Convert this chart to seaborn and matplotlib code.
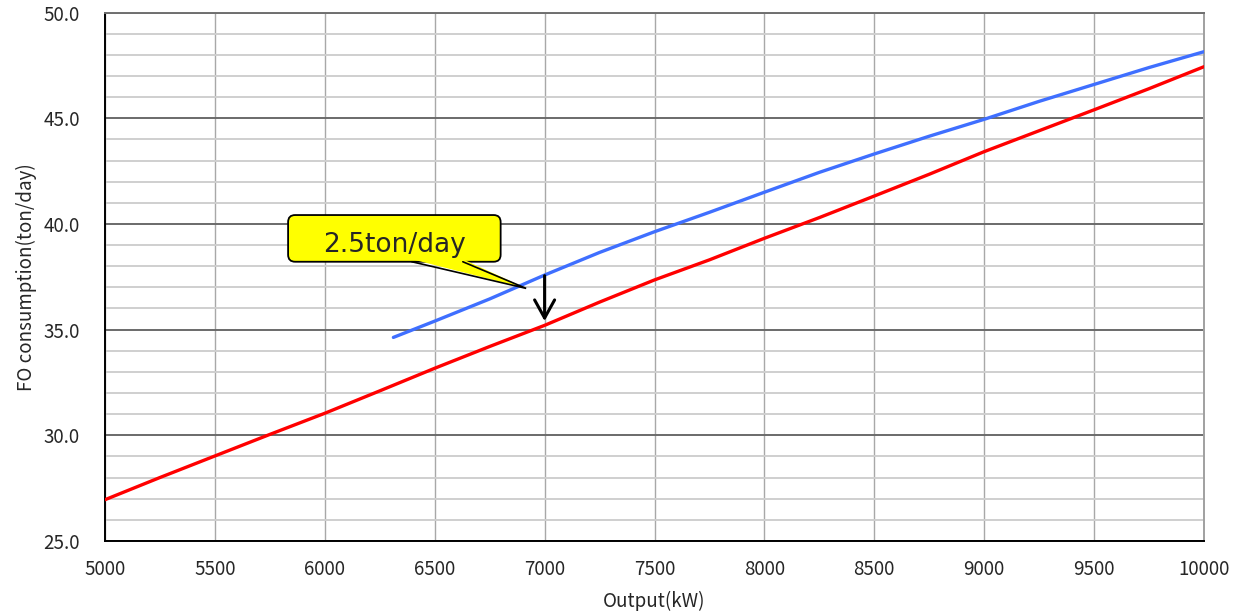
import matplotlib
matplotlib.use("Agg")
import matplotlib.pyplot as plt
from matplotlib.ticker import MultipleLocator, FormatStrFormatter
from matplotlib.patches import FancyBboxPatch, Polygon
import numpy as np
import pandas as pd
import seaborn as sns

# Output power (kW) and fuel-oil consumption (ton/day)
output_red = [5000, 5250, 5500, 5750, 6000, 6250, 6500, 6750, 7000, 7250,
              7500, 7750, 8000, 8250, 8500, 8750, 9000, 9250, 9500, 9750, 10000]
fo_red = [26.95, 28.0, 29.02, 30.04, 31.04, 32.1, 33.17, 34.2, 35.2, 36.3,
          37.35, 38.3, 39.32, 40.3, 41.32, 42.35, 43.42, 44.41, 45.4, 46.4, 47.44]

output_blue = [6312, 6500, 6750, 7000, 7250, 7500, 7750, 8000, 8250, 8500,
               8750, 9000, 9250, 9500, 9750, 10000]
fo_blue = [34.63, 35.4, 36.45, 37.58, 38.65, 39.63, 40.55, 41.5, 42.44, 43.31,
           44.15, 44.95, 45.8, 46.6, 47.4, 48.15]

note_text = "2.5ton/day"
note_x = 7000
note_top, note_bottom = 37.55, 35.4

sns.set_style("white")
plt.rcParams["font.family"] = ["Noto Sans CJK JP", "DejaVu Sans"]

df_red = pd.DataFrame({"Output(kW)": output_red, "FO": fo_red})
df_blue = pd.DataFrame({"Output(kW)": output_blue, "FO": fo_blue})

fig = plt.figure(figsize=(12.5, 6.11), dpi=100)
ax = fig.add_axes([0.084, 0.1147, 0.8792, 0.8647])

sns.lineplot(data=df_red, x="Output(kW)", y="FO", color="#FF0000", lw=2.4, ax=ax, zorder=5)
sns.lineplot(data=df_blue, x="Output(kW)", y="FO", color="#3F6FFF", lw=2.4, ax=ax, zorder=5)

ax.set_xlim(5000, 10000)
ax.set_ylim(25, 50)
ax.xaxis.set_major_locator(MultipleLocator(500))
ax.yaxis.set_major_locator(MultipleLocator(5))
ax.yaxis.set_minor_locator(MultipleLocator(1))
ax.yaxis.set_major_formatter(FormatStrFormatter("%.1f"))

# grid lines
ax.grid(axis="x", which="major", color="#A8A8A8", lw=1.0)
ax.grid(axis="y", which="major", color="#6A6A6A", lw=1.4)
ax.grid(axis="y", which="minor", color="#CFCFCF", lw=1.4)
ax.set_axisbelow(True)

ax.tick_params(axis="x", which="major", direction="in", length=7, width=1.2,
               color="black", labelsize=13.5, pad=13)
ax.tick_params(axis="y", which="both", direction="in", length=5, width=1.2,
               color="black", labelsize=13.5, pad=18)

for side in ("left", "bottom"):
    ax.spines[side].set_color("black")
    ax.spines[side].set_linewidth(1.4)
ax.spines["top"].set_color("#707070")
ax.spines["top"].set_linewidth(1.4)
ax.spines["right"].set_color("#A0A0A0")
ax.spines["right"].set_linewidth(1.4)

ax.set_xlabel("Output(kW)", fontsize=13.5, labelpad=8)
ax.set_ylabel("FO consumption(ton/day)", fontsize=13.5, labelpad=5)

# difference arrow between the two curves
ax.annotate("", xy=(note_x, note_bottom), xytext=(note_x, note_top),
            arrowprops=dict(arrowstyle="->,head_length=1.3,head_width=0.72",
                            color="black", lw=2.2, shrinkA=0, shrinkB=0),
            zorder=8)

# callout: rounded yellow box with a pointer to the upper curve
box_x0, box_x1 = 5833, 6800
box_y0, box_y1 = 38.21, 40.42
callout = FancyBboxPatch((box_x0, box_y0), box_x1 - box_x0, box_y1 - box_y0,
                         boxstyle="round,pad=0,rounding_size=32",
                         mutation_aspect=0.0104,
                         fc="#FFFF00", ec="black", lw=1.3, zorder=9)
ax.add_patch(callout)
tip = (6916, 36.95)
base_l, base_r = 6396, 6628
ax.add_patch(Polygon([(base_l, box_y0 + 0.12), (base_r, box_y0 + 0.12), tip],
                     closed=True, fc="#FFFF00", ec="none", zorder=10))
ax.plot([base_l, tip[0], base_r], [box_y0, tip[1], box_y0],
        color="black", lw=1.2, zorder=11, solid_joinstyle="miter")
ax.text((box_x0 + box_x1) / 2, 39.0, note_text, family="DejaVu Sans",
        fontsize=19, ha="center", va="center", zorder=12)

fig.savefig("out.png", dpi=100)
